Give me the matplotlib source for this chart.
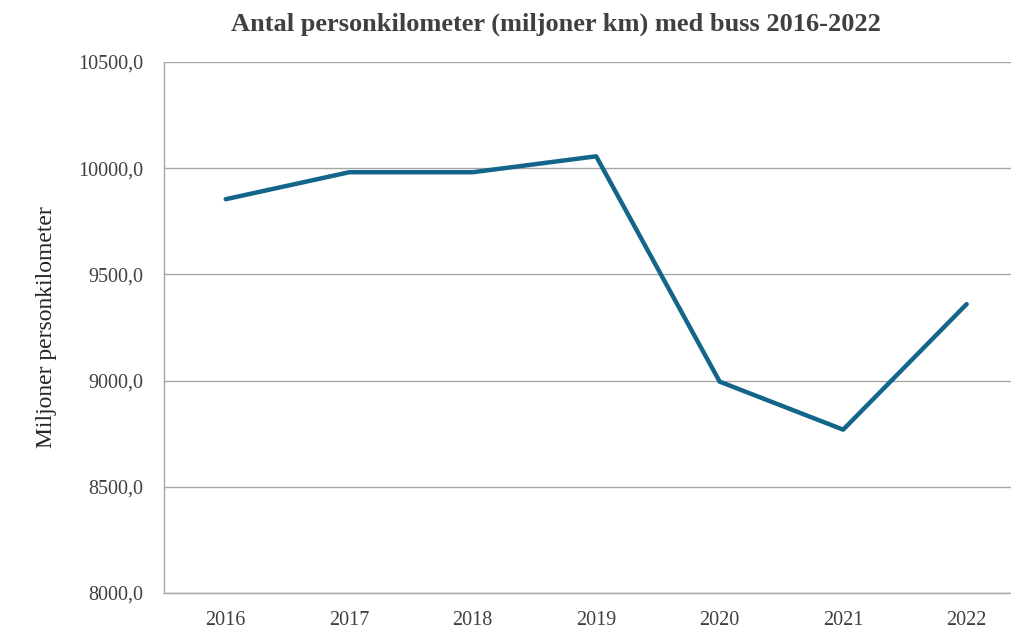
import matplotlib
matplotlib.use("Agg")
import matplotlib.pyplot as plt

years = ["2016", "2017", "2018", "2019", "2020", "2021", "2022"]
values = [9854, 9981, 9981, 10056, 8995, 8769, 9360]
yticks = [8000, 8500, 9000, 9500, 10000, 10500]

plt.rcParams['font.family'] = ['Liberation Serif', 'DejaVu Serif']

fig = plt.figure(figsize=(10.11, 6.34), dpi=100)
ax = fig.add_axes([0.1622, 0.0647, 0.855, 0.8375])

x = list(range(len(years)))
ax.plot(x, values, color="#13658A", linewidth=3.2, solid_capstyle="round", solid_joinstyle="round", zorder=3)

ax.set_xlim(-0.5, len(years) - 0.5)
ax.set_ylim(8000, 10500)
ax.set_yticks(yticks)
ax.set_yticklabels([f"{v:.1f}".replace(".", ",") for v in yticks])
ax.set_xticks(x)
ax.set_xticklabels(years)

ax.yaxis.grid(True, color="#A6A6A6", linewidth=1.0)
ax.set_axisbelow(True)
for s in ["top", "right"]:
    ax.spines[s].set_visible(False)
for s in ["left", "bottom"]:
    ax.spines[s].set_color("#A6A6A6")
    ax.spines[s].set_linewidth(1.0)
ax.tick_params(axis="both", length=0, labelsize=14.5, colors="#404040", pad=15)
ax.tick_params(axis="x", pad=13)

ax.set_ylabel("Miljoner personkilometer", fontsize=17, color="#262626", labelpad=15)
fig.text(0.55, 0.962, "Antal personkilometer (miljoner km) med buss 2016-2022", fontsize=19, fontweight="bold",
         color="#404040", ha="center", va="center")

fig.savefig("out.png", dpi=100)
